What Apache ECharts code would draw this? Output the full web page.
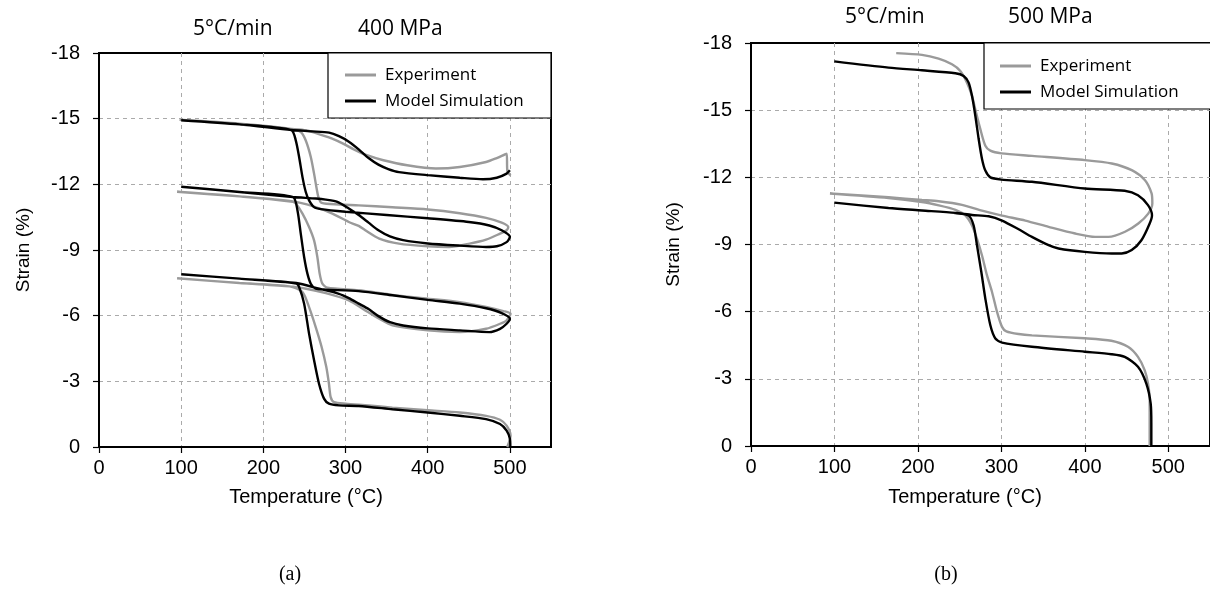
<!DOCTYPE html>
<html>
<head>
<meta charset="utf-8">
<script src="https://cdn.jsdelivr.net/npm/echarts@6/dist/echarts.min.js"></script>
<style>
html,body{margin:0;padding:0;background:#fff;}
#chart{width:1210px;height:596px;}
</style>
</head>
<body>
<div id="chart"></div>
<script>
// ---------- DATA ----------
const xTicks = [0, 100, 200, 300, 400, 500];
const yTicks = [-18, -15, -12, -9, -6, -3, 0];
const seriesNames = ['Experiment', 'Model Simulation'];
const axisTitles = ['Temperature (°C)', 'Strain (%)'];
const panelTitlesA = ['5°C/min', '400 MPa'];
const panelTitlesB = ['5°C/min', '500 MPa'];
const captions = ['(a)', '(b)'];

// (a) 400 MPa — [temperature °C, strain %]
const expA = [
  [501,-12.4],[497,-12.56],[496,-13.4],[484,-13.2],[471,-13.02],[439,-12.79],[410,-12.72],[375,-12.87],[346,-13.1],[326,-13.33],[310,-13.6],[297,-13.86],[283,-14.1],[272,-14.24],[252,-14.47],[232,-14.54],[171,-14.77],[98,-14.95],
  [171,-14.77],[232,-14.54],[245.5,-14.39],[251.6,-14.0],[257.7,-13.25],[261.7,-12.49],[264.5,-11.88],[267,-11.42],[271,-11.15],[292,-11.08],[316,-11.04],[357,-10.95],[400,-10.85],[439,-10.68],[471,-10.47],[490,-10.25],[498,-10.05],
  [496,-9.9],[488,-9.75],[471,-9.47],[451,-9.29],[426,-9.14],[400,-9.17],[365,-9.29],[341,-9.52],[324,-9.9],[316,-10.1],[304,-10.28],[284,-10.66],[260,-11.0],[236,-11.22],[171,-11.45],[95,-11.66],
  [171,-11.45],[236,-11.2],[239.5,-11.12],[247.6,-10.66],[255.6,-10.05],[261.7,-9.44],[265.7,-8.68],[268.5,-7.92],[271.8,-7.46],[278,-7.28],[316,-7.16],[357,-6.95],[400,-6.78],[439,-6.62],[471,-6.4],[492,-6.21],[500.8,-6.09],
  [496,-5.79],[488,-5.63],[471,-5.4],[439,-5.25],[400,-5.33],[357,-5.56],[341,-5.86],[324,-6.24],[304,-6.7],[276,-7.03],[252,-7.23],[232,-7.34],[171,-7.49],[95,-7.71],
  [171,-7.49],[232,-7.34],[247.6,-7.08],[255.6,-6.39],[263.7,-5.48],[270.9,-4.57],[276.6,-3.65],[279.8,-2.89],[281.9,-2.28],[286,-2.05],[300,-1.98],[328,-1.9],[357,-1.8],[400,-1.68],[439,-1.575],[471,-1.425],[488,-1.245],[496,-0.975],[500.8,-0.525],[499,-0.225],[496.7,0]
];
const modelA = [
  [500,-12.64],[496,-12.49],[484,-12.3],[467,-12.23],[439,-12.3],[400,-12.42],[365,-12.56],[352,-12.7],[340,-12.9],[328,-13.2],[316,-13.6],[304,-13.95],[292,-14.2],[280,-14.36],[260,-14.42],[234,-14.48],[171,-14.74],[100,-14.93],
  [171,-14.74],[234,-14.48],[239.5,-14.0],[243.5,-13.25],[247.6,-12.33],[251.6,-11.65],[255.6,-11.27],[261.7,-10.96],[270,-10.87],[300,-10.75],[350,-10.6],[400,-10.45],[450,-10.28],[475,-10.12],[490,-9.9],[500,-9.6],
  [496,-9.36],[484,-9.17],[471,-9.14],[439,-9.2],[400,-9.3],[370,-9.45],[354,-9.62],[340,-9.9],[328,-10.25],[316,-10.6],[304,-10.9],[290,-11.2],[276,-11.3],[264,-11.35],[236,-11.42],[171,-11.65],[100,-11.89],
  [171,-11.65],[236,-11.42],[241.5,-10.81],[245.5,-9.75],[249.6,-8.68],[253.6,-7.92],[257.7,-7.46],[263.7,-7.23],[276,-7.19],[316,-7.12],[357,-6.93],[400,-6.72],[439,-6.55],[471,-6.34],[490,-6.12],[500,-5.86],
  [496,-5.63],[488,-5.4],[475,-5.25],[439,-5.33],[400,-5.42],[370,-5.55],[354,-5.7],[340,-5.98],[328,-6.3],[316,-6.55],[304,-6.8],[292,-7.0],[268,-7.23],[240,-7.49],[171,-7.69],[100,-7.89],
  [171,-7.69],[240,-7.47],[243.5,-7.31],[249.6,-6.55],[255.6,-5.18],[261.7,-3.96],[267.7,-2.89],[273.8,-2.21],[279.8,-1.98],[292,-1.9],[316,-1.875],[357,-1.725],[400,-1.575],[439,-1.425],[471,-1.275],[488,-1.05],[496,-0.75],[500,-0.375],[500.5,0]
];

// (b) 500 MPa — [temperature °C, strain %]
const expB = [
  [174,-17.55],[204.8,-17.47],[224.8,-17.3],[240.8,-17.05],[250.8,-16.75],[258.8,-16.23],[264.8,-15.64],[269.6,-14.9],[274.8,-14.15],[280.8,-13.41],[286.8,-13.19],[300,-13.07],[336.7,-12.96],[400,-12.77],[432.3,-12.62],[456.2,-12.32],[472.1,-11.87],[480,-11.28],[480.9,-10.83],
  [476,-10.38],[464.1,-9.94],[448.2,-9.57],[428.3,-9.34],[412.3,-9.34],[388.4,-9.49],[356.6,-9.79],[328.7,-10.07],[300.8,-10.29],[276.8,-10.51],[252.8,-10.77],[224.8,-10.93],[204.8,-10.99],[164.8,-11.11],[94.6,-11.28],
  [164.8,-11.08],[204.8,-10.9],[225,-10.75],[245,-10.55],[256.8,-10.3],[264.8,-9.85],[270.8,-9.25],[276.8,-8.51],[282.8,-7.62],[288.8,-6.88],[294.8,-5.99],[300.8,-5.32],[306,-5.12],[320.7,-5.0],[336.6,-4.94],[400,-4.81],[431.8,-4.7],[451.7,-4.43],[463.7,-3.98],[471.7,-3.39],[475.7,-2.79],[477.7,-2.04],[477.7,-1.0],[477.7,0]
];
const modelB = [
  [99.8,-17.18],[164.8,-16.9],[204.8,-16.78],[244.8,-16.65],[254.8,-16.53],[260.8,-16.23],[264.8,-15.64],[268.8,-14.75],[272.8,-13.71],[276.8,-12.82],[280.8,-12.3],[286.8,-12.0],[300,-11.9],[336.6,-11.8],[400,-11.5],[447.8,-11.4],[463.7,-11.2],[475.7,-10.76],[480.5,-10.31],
  [477.7,-9.94],[467.8,-9.19],[456.2,-8.75],[444.2,-8.6],[432.3,-8.6],[400,-8.67],[368.5,-8.82],[356.6,-8.97],[336.6,-9.34],[320.7,-9.68],[300.8,-10.07],[284.8,-10.26],[264.8,-10.32],[244.8,-10.41],[204.8,-10.52],[164.8,-10.63],[99.8,-10.87],
  [164.8,-10.63],[204.8,-10.52],[244.8,-10.41],[260.8,-10.29],[266.8,-9.85],[270.8,-8.96],[276,-7.77],[280.8,-6.58],[286.8,-5.39],[292.8,-4.8],[300.8,-4.62],[336.6,-4.43],[400,-4.21],[431.8,-4.1],[447.8,-3.98],[463.7,-3.54],[473.7,-2.79],[478.9,-1.9],[479.7,-1.0],[479.7,0]
];

// ---------- CHART ----------
const GRAY = '#9a9a9a';
const BLACK = '#000000';
const tickFont = 'Liberation Sans, Arial, sans-serif';
const calFont = 'Open Sans, sans-serif';

function xAxisFor(idx) {
  return {
    gridIndex: idx, type: 'value', min: 0, max: 550, interval: 100,
    axisLine: { show: true, onZero: false, lineStyle: { color: '#000', width: 2 } },
    axisTick: { show: true, length: 6, lineStyle: { color: '#000', width: 1.2 } },
    axisLabel: { fontFamily: tickFont, fontSize: 20, color: '#000', margin: 11, showMaxLabel: false,
      formatter: v => (xTicks.indexOf(v) >= 0 ? String(v) : '') },
    splitLine: { show: true, showMinLine: false, showMaxLine: false, lineStyle: { color: '#aaaaaa', width: 1, type: [4, 4] } }
  };
}
function yAxisFor(idx, gap) {
  return {
    gridIndex: idx, type: 'value', min: -18, max: 0, interval: 3, inverse: true,
    name: axisTitles[1], nameLocation: 'middle', nameGap: gap,
    nameTextStyle: { fontFamily: tickFont, fontSize: 19, color: '#000' },
    axisLine: { show: true, onZero: false, lineStyle: { color: '#000', width: 2 } },
    axisTick: { show: true, length: 6, lineStyle: { color: '#000', width: 1.2 } },
    axisLabel: { fontFamily: tickFont, fontSize: 20, color: '#000', margin: 19,
      formatter: v => (yTicks.indexOf(v) >= 0 ? String(v) : '') },
    splitLine: { show: true, showMinLine: false, showMaxLine: false, lineStyle: { color: '#aaaaaa', width: 1, type: [4, 4] } }
  };
}
function lineSeries(name, data, color, idx) {
  return {
    name: name, type: 'line', data: data, xAxisIndex: idx, yAxisIndex: idx,
    showSymbol: false, symbol: 'none', smooth: 0.25, clip: true,
    lineStyle: { color: color, width: 2.4 }, itemStyle: { color: color },
    z: color === BLACK ? 3 : 2, animation: false
  };
}
function legendFor(left, top) {
  return {
    orient: 'vertical', left: left, top: top, data: seriesNames,
    icon: 'rect', itemWidth: 31, itemHeight: 3, itemGap: 6,
    textStyle: { fontFamily: calFont, fontSize: 17, color: '#000', lineHeight: 20, padding: [0, 0, 0, 4] },
    selectedMode: false, z: 10
  };
}

const chart = echarts.init(document.getElementById('chart'), null, { renderer: 'canvas' });
chart.setOption({
  animation: false,
  backgroundColor: '#fff',
  grid: [
    { left: 99, top: 53, width: 452, height: 394, show: true, borderColor: '#000', borderWidth: 2, backgroundColor: 'transparent' },
    { left: 751, top: 43, width: 462, height: 403, show: true, borderColor: '#000', borderWidth: 2, backgroundColor: 'transparent' }
  ],
  xAxis: [xAxisFor(0), xAxisFor(1)],
  yAxis: [yAxisFor(0, 66), yAxisFor(1, 68)],
  legend: [legendFor(340, 60), legendFor(995, 51)],
  series: [
    lineSeries(seriesNames[0], expA, GRAY, 0),
    lineSeries(seriesNames[1], modelA, BLACK, 0),
    lineSeries(seriesNames[0], expB, GRAY, 1),
    lineSeries(seriesNames[1], modelB, BLACK, 1)
  ],
  graphic: [
    { type: 'rect', z: 5, shape: { x: 328, y: 53, width: 223, height: 65 }, style: { fill: '#fff', stroke: '#000', lineWidth: 1.2 } },
    { type: 'rect', z: 5, shape: { x: 984, y: 43, width: 240, height: 66 }, style: { fill: '#fff', stroke: '#000', lineWidth: 1.2 } },
    { type: 'text', z: 6, x: 193, y: 29, style: { text: panelTitlesA[0], font: '21px ' + calFont, fill: '#000', verticalAlign: 'middle' } },
    { type: 'text', z: 6, x: 358, y: 29, style: { text: panelTitlesA[1], font: '21px ' + calFont, fill: '#000', verticalAlign: 'middle' } },
    { type: 'text', z: 6, x: 845, y: 17, style: { text: panelTitlesB[0], font: '21px ' + calFont, fill: '#000', verticalAlign: 'middle' } },
    { type: 'text', z: 6, x: 1008, y: 17, style: { text: panelTitlesB[1], font: '21px ' + calFont, fill: '#000', verticalAlign: 'middle' } },
    { type: 'text', z: 6, x: 306, y: 497, style: { text: axisTitles[0], font: '20px ' + tickFont, fill: '#000', align: 'center', verticalAlign: 'middle' } },
    { type: 'text', z: 6, x: 965, y: 497, style: { text: axisTitles[0], font: '20px ' + tickFont, fill: '#000', align: 'center', verticalAlign: 'middle' } },
    { type: 'text', z: 6, x: 290, y: 575, style: { text: captions[0], font: '20px Liberation Serif, serif', fill: '#000', align: 'center', verticalAlign: 'middle' } },
    { type: 'text', z: 6, x: 946, y: 575, style: { text: captions[1], font: '20px Liberation Serif, serif', fill: '#000', align: 'center', verticalAlign: 'middle' } }
  ]
});
</script>
</body>
</html>
